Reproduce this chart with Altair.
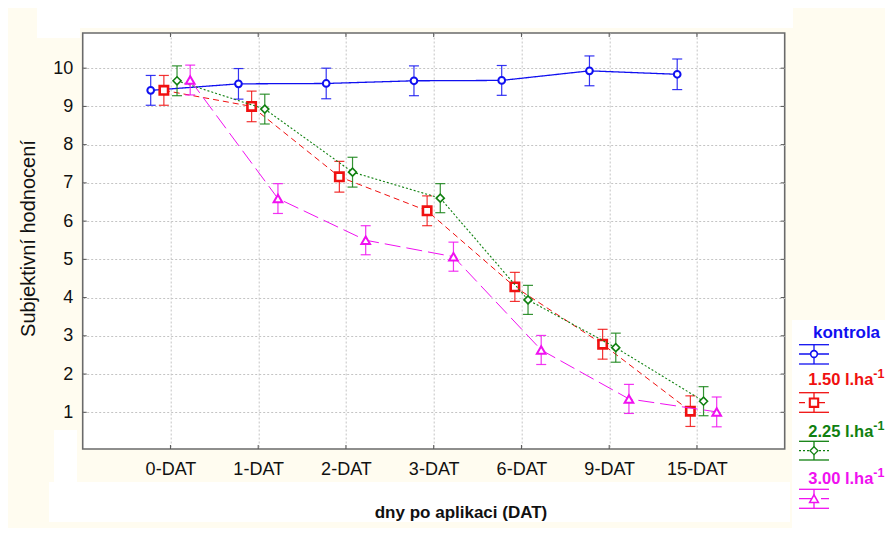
import altair as alt
import pandas as pd

# ---------------- data ----------------
categories = ["0-DAT", "1-DAT", "2-DAT", "3-DAT", "6-DAT", "9-DAT", "15-DAT"]
series_keys = ["kontrola", "1.50", "2.25", "3.00"]
series_labels = ["kontrola", "1.50 l.ha", "2.25 l.ha", "3.00 l.ha"]

kontrola = [9.42, 9.59, 9.60, 9.67, 9.68, 9.93, 9.84]
dose_150 = [9.42, 9.00, 7.16, 6.27, 4.28, 2.78, 1.03]
dose_225 = [9.67, 8.93, 7.28, 6.60, 3.94, 2.69, 1.29]
dose_300 = [9.69, 6.59, 5.50, 5.07, 2.63, 1.35, 1.01]

err_kontrola = [0.39, 0.40, 0.40, 0.39, 0.39, 0.39, 0.40]
err_150 = [0.39, 0.40, 0.40, 0.39, 0.38, 0.39, 0.40]
err_225 = [0.39, 0.39, 0.39, 0.38, 0.38, 0.38, 0.38]
err_300 = [0.39, 0.39, 0.38, 0.38, 0.38, 0.38, 0.39]

y_ticks = [1, 2, 3, 4, 5, 6, 7, 8, 9, 10]
x_ticks = [1, 2, 3, 4, 5, 6, 7]

values = [kontrola, dose_150, dose_225, dose_300]
errors = [err_kontrola, err_150, err_225, err_300]

# ---------------- styles ----------------
colors = ["#1010F0", "#F01010", "#108010", "#F010F0"]
dodge = [-0.225, -0.075, 0.075, 0.225]
dashes = [[1, 0], [6, 4], [2, 2], [16, 6]]
line_w = [1.3, 1.0, 1.1, 1.0]
shapes = ["circle", "square", "diamond", "triangle-up"]
msize = [45, 70, 64, 75]
mstroke = [2.0, 2.6, 1.6, 2.0]

W, H = 702, 416
FONT = "Liberation Sans"

rows = []
for k, key in enumerate(series_keys):
    for j, cat in enumerate(categories):
        v = values[k][j]
        e = errors[k][j]
        rows.append({"series": key, "cat": cat, "x": j + 1 + dodge[k],
                     "y": v, "lo": v - e, "hi": v + e})
df = pd.DataFrame(rows)

xs = alt.Scale(domain=[0, 8], nice=False, zero=False)
ys = alt.Scale(domain=[0.04, 10.92], nice=False, zero=False)

label_js = "[" + ",".join("'%s'" % c for c in categories) + "][datum.value - 1]"
x_axis = alt.Axis(values=x_ticks, labelExpr=label_js, title=None, grid=True,
                  gridColor="#c4c4c4", gridDash=[2, 2], gridWidth=1,
                  ticks=False, domain=False, labelFont=FONT, labelFontSize=18,
                  labelColor="#111111", labelPadding=11)
y_axis = alt.Axis(values=y_ticks, format="d", title=None, grid=True,
                  gridColor="#c4c4c4", gridDash=[2, 2], gridWidth=1,
                  ticks=False, domain=False, labelFont=FONT, labelFontSize=18,
                  labelColor="#111111", labelPadding=10)


def X(field):
    return alt.X(field, type="quantitative", scale=xs, axis=x_axis)


def Y(field):
    return alt.Y(field, type="quantitative", scale=ys, axis=y_axis)


one = alt.Data(values=[{}])
layers = []

# decorative white patches of the original background
for (x0, x1, y0, y1) in [(37 - 82.7, 793 - 82.7, -25, -5),
                         (37 - 82.7, 80 - 82.7, -5, 5),
                         (49 - 82.7, 790 - 82.7, 482 - 33, 522 - 33),
                         (54 - 82.7, 77 - 82.7, 430 - 33, 482 - 33),
                         (792 - 82.7, 900 - 82.7, 320 - 33, 540 - 33)]:
    layers.append(alt.Chart(one).mark_rect(color="white").encode(
        x=alt.value(x0), x2=alt.value(x1), y=alt.value(y0), y2=alt.value(y1)))

# inner ticks on all four sides
tdy = pd.DataFrame({"v": y_ticks})
tdx = pd.DataFrame({"v": x_ticks})
tick_col = "#555555"
layers.append(alt.Chart(tdy).mark_rule(color=tick_col, strokeWidth=1).encode(
    y=Y("v"), x=alt.value(0), x2=alt.value(4)))
layers.append(alt.Chart(tdy).mark_rule(color=tick_col, strokeWidth=1).encode(
    y=Y("v"), x=alt.value(W - 4), x2=alt.value(W)))
layers.append(alt.Chart(tdx).mark_rule(color=tick_col, strokeWidth=1).encode(
    x=X("v"), y=alt.value(H - 4), y2=alt.value(H)))
layers.append(alt.Chart(tdx).mark_rule(color=tick_col, strokeWidth=1).encode(
    x=X("v"), y=alt.value(0), y2=alt.value(4)))

# series
for k, key in enumerate(series_keys):
    base = alt.Chart(df).transform_filter(alt.datum.series == key)
    c = colors[k]
    layers.append(base.mark_line(color=c, strokeWidth=line_w[k],
                                 strokeDash=dashes[k]).encode(
        x=X("x"), y=Y("y"), order="x:Q"))
    layers.append(base.mark_rule(color=c, strokeWidth=1.2, opacity=0.85).encode(
        x=X("x"), y=Y("lo"), y2="hi:Q"))
    layers.append(base.mark_tick(color=c, orient="horizontal", size=10,
                                 thickness=1.2, opacity=0.85).encode(
        x=X("x"), y=Y("lo")))
    layers.append(base.mark_tick(color=c, orient="horizontal", size=10,
                                 thickness=1.2, opacity=0.85).encode(
        x=X("x"), y=Y("hi")))
    layers.append(base.mark_point(shape=shapes[k], size=msize[k], filled=False,
                                  fill="white", fillOpacity=1, color=c,
                                  strokeWidth=mstroke[k], opacity=1).encode(
        x=X("x"), y=Y("y")))

# legend (page coordinates relative to plot origin 82.7, 33)
leg_text_y = [299.7, 347.0, 398.7, 446.3]
leg_sym_y = [321.0, 369.7, 417.7, 465.7]
leg_cap = [(311.7, 331.0), (359.7, 379.3), (408.3, 427.0), (456.3, 475.3)]
lx0, lx1, lmx = 716.3, 746.3, 731.3
for k in range(4):
    c = colors[k]
    layers.append(alt.Chart(one).mark_text(
        text=series_labels[k], color=c, font=FONT,
        fontSize=17 if k == 0 else 16.5, fontWeight="bold",
        align="left", baseline="middle").encode(
        x=alt.value(730.3 if k == 0 else 725.5), y=alt.value(leg_text_y[k])))
    if k > 0:
        layers.append(alt.Chart(one).mark_text(
            text="-1", color=c, font=FONT, fontSize=12.5, fontWeight="bold",
            align="left", baseline="middle").encode(
            x=alt.value(790.6), y=alt.value(leg_text_y[k] - 6)))
    layers.append(alt.Chart(one).mark_rule(color=c, strokeWidth=line_w[k] + 0.2,
                                           strokeDash=dashes[k]).encode(
        x=alt.value(lx0), x2=alt.value(lx1), y=alt.value(leg_sym_y[k])))
    for cy in leg_cap[k]:
        layers.append(alt.Chart(one).mark_rule(color=c, strokeWidth=1.3).encode(
            x=alt.value(lx0), x2=alt.value(lx1), y=alt.value(cy)))
    layers.append(alt.Chart(one).mark_rule(color=c, strokeWidth=1.3).encode(
        x=alt.value(lmx), y=alt.value(leg_cap[k][0]), y2=alt.value(leg_cap[k][1])))
    layers.append(alt.Chart(one).mark_point(
        shape=shapes[k], size=msize[k], filled=False, fill="white", fillOpacity=1,
        color=c, strokeWidth=mstroke[k] * 0.8, opacity=1).encode(
        x=alt.value(lmx), y=alt.value(leg_sym_y[k])))

# axis titles
layers.append(alt.Chart(one).mark_text(
    text="Subjektivní hodnocení", font=FONT, fontSize=20, angle=270,
    align="center", baseline="middle", color="#111111").encode(
    x=alt.value(29.5 - 82.7), y=alt.value(238.5 - 33)))
layers.append(alt.Chart(one).mark_text(
    text="dny po aplikaci (DAT)", font=FONT, fontSize=17, fontWeight="bold",
    align="center", baseline="middle", color="#111111").encode(
    x=alt.value(461 - 82.7), y=alt.value(513 - 33)))

chart = alt.layer(*layers).properties(
    width=W, height=H,
    autosize=alt.AutoSizeParams(type="none"),
    padding={"left": 74.7, "top": 25, "right": 100.3, "bottom": 79},
    background="#FFFCF0",
).configure_view(stroke="#6a6a6a", strokeWidth=1.6, fill="white")

chart.save("out.html", embed_options={"renderer": "svg", "actions": False})
